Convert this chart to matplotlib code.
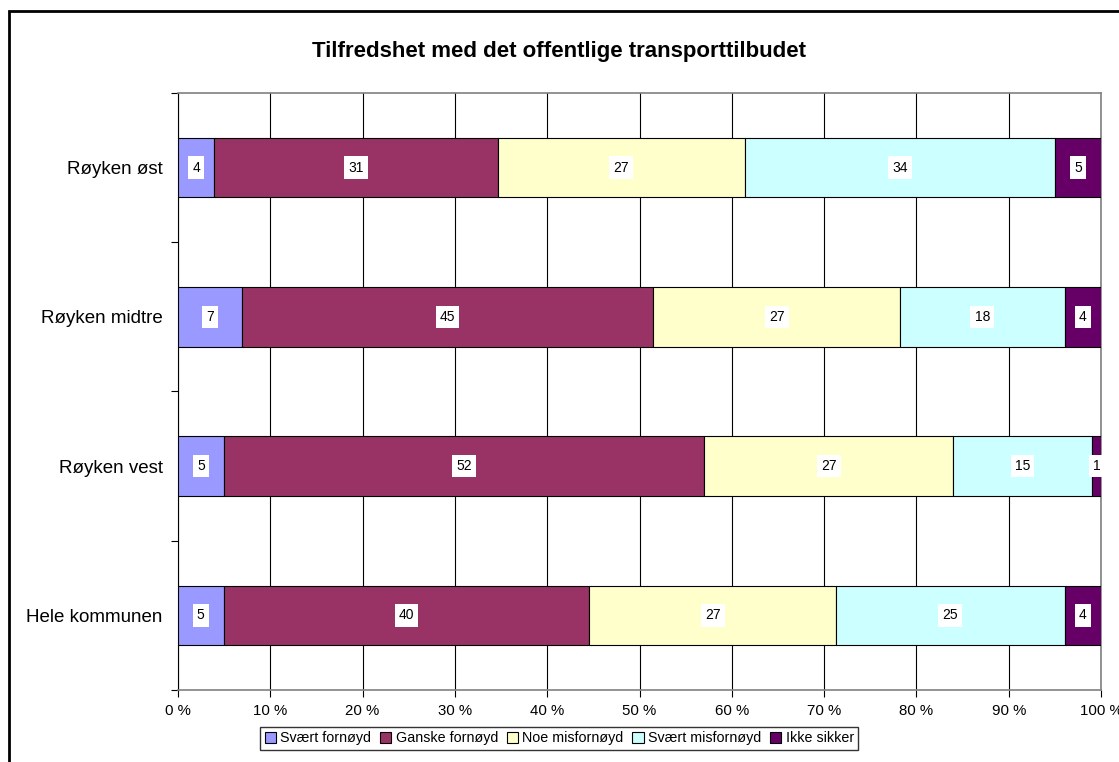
import matplotlib.pyplot as plt
import matplotlib.patches as mpatches
import numpy as np

plt.rcParams['font.family'] = ['Liberation Sans', 'DejaVu Sans']

areas = ["Røyken øst", "Røyken midtre", "Røyken vest", "Hele kommunen"]
answers = ["Svært fornøyd", "Ganske fornøyd", "Noe misfornøyd", "Svært misfornøyd", "Ikke sikker"]
colors = ["#9999FF", "#993366", "#FFFFCC", "#CCFFFF", "#660066"]

svaert_fornoyd = [4, 7, 5, 5]
ganske_fornoyd = [31, 45, 52, 40]
noe_misfornoyd = [27, 27, 27, 27]
svaert_misfornoyd = [34, 18, 15, 25]
ikke_sikker = [5, 4, 1, 4]

data = np.array([svaert_fornoyd, ganske_fornoyd, noe_misfornoyd, svaert_misfornoyd, ikke_sikker], dtype=float)
totals = data.sum(axis=0)
shares = data / totals * 100

fig = plt.figure(figsize=(11.19, 7.62), dpi=100)
ax = fig.add_axes([0.159, 0.0945, 0.825, 0.7835])

y = np.arange(len(areas))
left = np.zeros(len(areas))
for i in range(len(answers)):
    ax.barh(y, shares[i], left=left, height=0.4, color=colors[i],
            edgecolor="black", linewidth=0.8, label=answers[i], zorder=3)
    for j in range(len(areas)):
        ax.text(left[j] + shares[i][j] / 2, y[j], "%d" % data[i][j],
                ha="center", va="center", fontsize=10, zorder=4,
                bbox=dict(facecolor="white", edgecolor="none", pad=3))
    left += shares[i]

ax.set_xlim(0, 100)
ax.set_ylim(len(areas) - 0.5, -0.5)
ax.set_xticks(np.arange(0, 101, 10))
ax.set_xticklabels(["%d %%" % v for v in range(0, 101, 10)], fontsize=10.8)
ax.set_yticks(y)
ax.set_yticklabels(areas, fontsize=13.5)
ax.set_yticks(np.arange(-0.5, len(areas), 1), minor=True)
ax.tick_params(axis="y", which="major", length=0, pad=11)
ax.tick_params(axis="y", which="minor", length=5, width=0.8, color="black")
ax.tick_params(axis="x", length=5, width=0.8, color="black", pad=5)
ax.grid(axis="x", color="black", linewidth=0.8, zorder=0)
ax.set_axisbelow(True)

for s in ["top", "right", "bottom"]:
    ax.spines[s].set_color("#808080")
    ax.spines[s].set_linewidth(1.2)
ax.spines["left"].set_color("black")
ax.spines["left"].set_linewidth(0.8)

fig.text(0.5, 0.932, "Tilfredshet med det offentlige transporttilbudet",
         ha="center", va="center", fontsize=16, fontweight="bold")

ax.legend(loc="upper center", bbox_to_anchor=(0.413, -0.062), ncol=5, fontsize=10.3,
          frameon=True, fancybox=False, edgecolor="black", handlelength=0.8,
          handleheight=0.8, handletextpad=0.3, columnspacing=0.6, borderpad=0.3,
          borderaxespad=0)

border = mpatches.Rectangle((0.008, -0.02), 1.05, 1.006, transform=fig.transFigure,
                            fill=False, edgecolor="black", linewidth=2, clip_on=False)
fig.patches.append(border)

fig.savefig("out.png", dpi=100)
